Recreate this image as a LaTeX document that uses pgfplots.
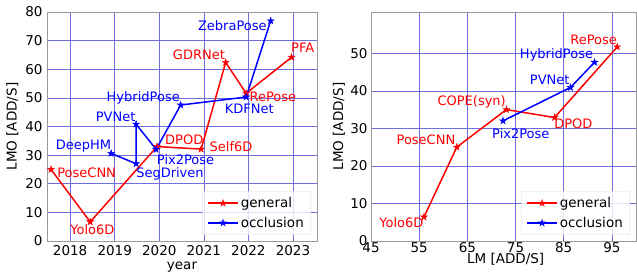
\documentclass[border=0pt]{standalone}
\usepackage{pgfplots}
\pgfplotsset{compat=1.18}
\usepackage{fontspec}
\setmainfont{DejaVu Sans}
\newcommand{\fs}{\fontsize{13}{15}\selectfont}
\newcommand{\ft}{\fontsize{13.5}{15}\selectfont}
\definecolor{gridc}{RGB}{110,110,225}
\pgfdeclareplotmark{fstar}{%
  \pgfpathmoveto{\pgfpoint{0pt}{\pgfplotmarksize}}%
  \pgfpathlineto{\pgfpoint{0.2245\pgfplotmarksize}{0.309\pgfplotmarksize}}%
  \pgfpathlineto{\pgfpoint{0.951\pgfplotmarksize}{0.309\pgfplotmarksize}}%
  \pgfpathlineto{\pgfpoint{0.363\pgfplotmarksize}{-0.118\pgfplotmarksize}}%
  \pgfpathlineto{\pgfpoint{0.588\pgfplotmarksize}{-0.809\pgfplotmarksize}}%
  \pgfpathlineto{\pgfpoint{0pt}{-0.382\pgfplotmarksize}}%
  \pgfpathlineto{\pgfpoint{-0.588\pgfplotmarksize}{-0.809\pgfplotmarksize}}%
  \pgfpathlineto{\pgfpoint{-0.363\pgfplotmarksize}{-0.118\pgfplotmarksize}}%
  \pgfpathlineto{\pgfpoint{-0.951\pgfplotmarksize}{0.309\pgfplotmarksize}}%
  \pgfpathlineto{\pgfpoint{-0.2245\pgfplotmarksize}{0.309\pgfplotmarksize}}%
  \pgfpathclose
  \pgfusepathqfillstroke}
\pgfplotsset{mystyle/.style={
  scale only axis, height=229pt,
  axis line style={draw=black!40, line width=0.8pt},
  grid=major, grid style={gridc, line width=0.6pt},
  major tick length=0pt, tick style={draw=none},
  tick label style={font=\ft},
  label style={font=\ft},
  /pgf/number format/assume math mode=true,
  clip=false,
  legend cell align=left,
  legend style={draw=black!15, rounded corners=2pt, fill=white, fill opacity=0.8,
    draw opacity=1, text opacity=1, at={(1,0)}, anchor=south east,
    xshift=-6pt, yshift=6pt, font=\ft, row sep=4pt, inner xsep=5pt, inner ysep=4pt},
  legend image code/.code={\draw[mark repeat=2,mark phase=2] plot coordinates {(0pt,0pt)(15pt,0pt)(30pt,0pt)};},
  gen/.style={red, line width=1.5pt, mark=fstar, mark size=3.5pt, mark options={solid, line width=0.5pt}},
  occ/.style={blue, line width=1.5pt, mark=fstar, mark size=3.5pt, mark options={solid, line width=0.5pt}},
}}
\begin{document}
\begin{tikzpicture}
\useasboundingbox (0,0) rectangle (637pt,278pt);
\begin{axis}[mystyle, at={(47pt,37pt)}, anchor=south west, width=270pt,
  xmin=2017.48, xmax=2023.54, ymin=0, ymax=80,
  xtick={2018,2019,2020,2021,2022,2023}, ytick={0,10,...,80},
  xticklabel style={/pgf/number format/1000 sep=, yshift=-1pt},
  yticklabel style={xshift=-1pt},
  xlabel={year}, ylabel={LMO [ADD/S]},
  xlabel style={at={(axis description cs:0.5,-0.126)}, anchor=base},
  ylabel style={at={(axis description cs:-0.128,0.5)}, anchor=center},
]
\addplot[gen] coordinates {(2017.57,25.0)(2018.45,6.7)(2019.95,33.0)(2020.94,32.1)(2021.49,62.4)(2021.95,51.6)(2022.97,64.2)};
\addlegendentry{general}
\addplot[occ] coordinates {(2018.92,30.6)(2019.48,27.0)(2019.48,40.8)(2019.93,32.0)(2020.48,47.5)(2021.95,50.3)(2022.50,76.9)};
\addlegendentry{occlusion}
\begin{scope}[font=\fs]
\node[red] at (axis cs:2018.37,23.9) {PoseCNN};
\node[red] at (axis cs:2018.50,4.1) {Yolo6D};
\node[red] at (axis cs:2020.56,35.3) {DPOD};
\node[red] at (axis cs:2021.61,32.9) {Self6D};
\node[red] at (axis cs:2020.89,65.0) {GDRNet};
\node[red] at (axis cs:2022.55,50.2) {RePose};
\node[red] at (axis cs:2023.22,67.5) {PFA};
\node[blue] at (axis cs:2018.30,33.2) {DeepHM};
\node[blue] at (axis cs:2020.24,23.4) {SegDriven};
\node[blue] at (axis cs:2019.02,43.4) {PVNet};
\node[blue] at (axis cs:2020.59,28.5) {Pix2Pose};
\node[blue] at (axis cs:2019.64,49.85) {HybridPose};
\node[blue] at (axis cs:2022.02,46.2) {KDFNet};
\node[blue] at (axis cs:2021.64,75.2) {ZebraPose};
\end{scope}
\end{axis}
\begin{axis}[mystyle, at={(371pt,37pt)}, anchor=south west, width=265pt,
  xmin=45, xmax=100, ymin=0, ymax=61,
  xtick={45,55,...,95}, ytick={0,10,...,50},
  xticklabel style={yshift=2pt},
  yticklabel style={xshift=0pt},
  xlabel={LM [ADD/S]}, ylabel={LMO [ADD/S]},
  xlabel style={at={(axis description cs:0.508,-0.1)}, anchor=base},
  ylabel style={at={(axis description cs:-0.121,0.5)}, anchor=center},
]
\addplot[gen] coordinates {(56.0,6.4)(62.8,25.0)(73.1,35.0)(83.1,32.9)(96.1,51.7)};
\addlegendentry{general}
\addplot[occ] coordinates {(72.4,32.0)(86.4,40.9)(91.4,47.6)};
\addlegendentry{occlusion}
\begin{scope}[font=\fs]
\node[red] at (axis cs:51.3,4.9) {Yolo6D};
\node[red] at (axis cs:56.4,27.0) {PoseCNN};
\node[red] at (axis cs:65.9,37.1) {COPE(syn)};
\node[red] at (axis cs:87.0,31.3) {DPOD};
\node[red] at (axis cs:91.2,53.7) {RePose};
\node[blue] at (axis cs:76.1,28.6) {Pix2Pose};
\node[blue] at (axis cs:82.1,42.85) {PVNet};
\node[blue] at (axis cs:83.5,49.5) {HybridPose};
\end{scope}
\end{axis}
\end{tikzpicture}
\end{document}
